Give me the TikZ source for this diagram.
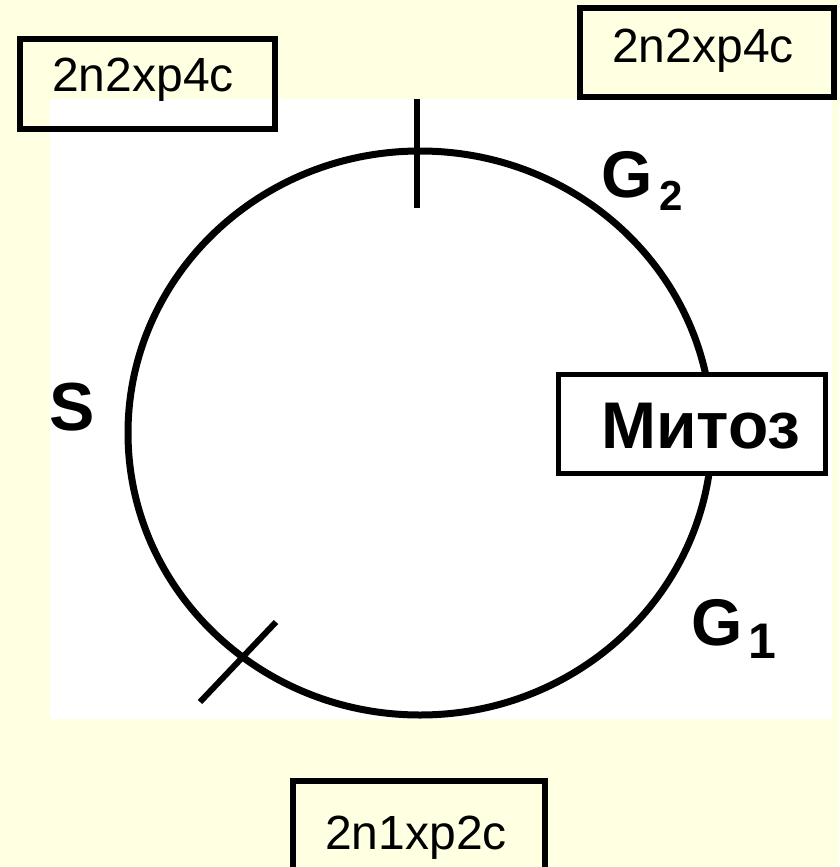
\documentclass[tikz,border=0pt]{standalone}
\usepackage{fontspec}
\setmainfont{Liberation Sans}
\definecolor{bgyellow}{RGB}{255,255,225}
\tikzset{
  frame/.style={draw=black, line width=6pt},
  boxtext/.style={font=\fontsize{48}{52}\selectfont, inner sep=0pt, anchor=base},
  scanline/.style={draw=black, line width=6pt},
  lbl/.style={font=\bfseries\fontsize{66}{70}\selectfont, inner sep=0pt, anchor=base west},
  sublbl/.style={font=\bfseries\fontsize{42}{46}\selectfont, inner sep=0pt, anchor=base west}
}
\begin{document}
\begin{tikzpicture}[x=1pt, y=-1pt]
\useasboundingbox (0,0) rectangle (839,867);
\fill[bgyellow] (0,0) rectangle (839,867);
\begin{scope}
\clip (0,0) rectangle (839,867);
% scanned picture area
\fill[white] (50,99) rectangle (832,719);
% cycle ring
\draw[scanline, line width=7pt] (420,433) ellipse [x radius=292, y radius=282];
\coordinate (t1a) at (417,99);
\coordinate (t1b) at (417,208);
\coordinate (t2a) at (200,702);
\coordinate (t2b) at (276,622);
\draw[scanline] (t1a) -- (t1b);
\draw[scanline] (t2a) -- (t2b);
% Mitoz box
\draw[fill=white, draw=black, line width=5.5pt] (558.5,374.5) rectangle (825.5,473.5);
\node[lbl, anchor=base] (mit) at (701,448) {Митоз};
% phase labels
\node[lbl] (g2) at (601,197) {G};
\node[sublbl] (g2s) at (659,210) {2};
\node[lbl] (g1) at (691,645) {G};
\node[sublbl, font=\bfseries\fontsize{50}{54}\selectfont] (g1s) at (748,658) {1};
\node[lbl, font=\bfseries\fontsize{68}{72}\selectfont] (s) at (49,430) {S};
% boxes
\draw[frame] (20,39) rectangle (275,129);
\node[boxtext] (b1) at (143,92) {2n2xp4c};
\draw[frame] (580,8) rectangle (834,97);
\node[boxtext] (b2) at (703,63) {2n2xp4c};
\draw[frame] (293,781) rectangle (545,900);
\node[boxtext] (b3) at (416,849) {2n1xp2c};
\end{scope}
\end{tikzpicture}
\end{document}
